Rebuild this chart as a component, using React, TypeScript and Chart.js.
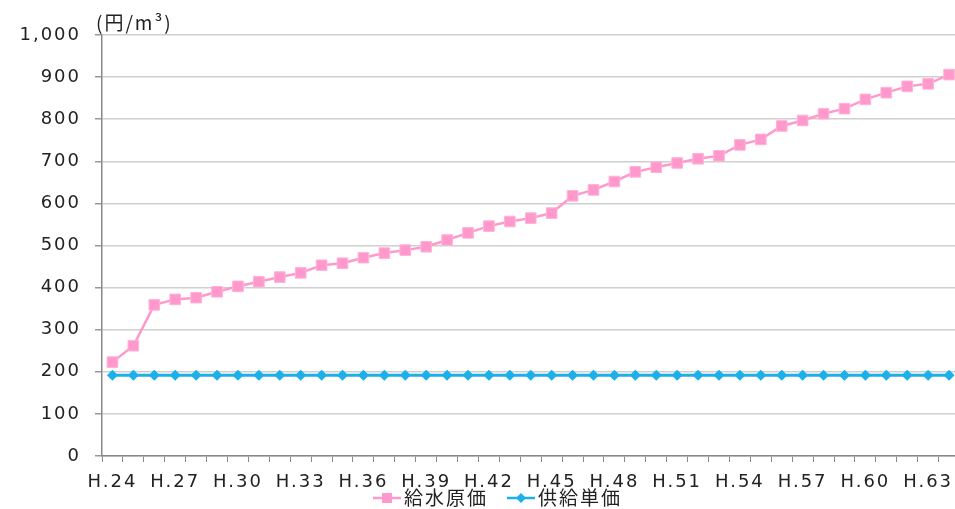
import React, { useEffect, useRef } from "react";
import { Chart, registerables } from "chart.js";

Chart.register(...registerables);

const categories = [
  "H.24","H.25","H.26","H.27","H.28","H.29","H.30","H.31","H.32","H.33",
  "H.34","H.35","H.36","H.37","H.38","H.39","H.40","H.41","H.42","H.43",
  "H.44","H.45","H.46","H.47","H.48","H.49","H.50","H.51","H.52","H.53",
  "H.54","H.55","H.56","H.57","H.58","H.59","H.60","H.61","H.62","H.63","H.64",
];

const kyusuiGenka = [
  223, 262, 359, 372, 376, 390, 403, 414, 425, 435,
  453, 458, 471, 482, 489, 497, 513, 530, 546, 557,
  565, 577, 618, 632, 652, 675, 686, 696, 706, 713,
  739, 752, 784, 797, 813, 825, 847, 863, 878, 884, 906,
];

const kyokyuTanka = [
  192, 192, 192, 192, 192, 192, 192, 192, 192, 192,
  192, 192, 192, 192, 192, 192, 192, 192, 192, 192,
  192, 192, 192, 192, 192, 192, 192, 192, 192, 192,
  192, 192, 192, 192, 192, 192, 192, 192, 192, 192, 192,
];

const seriesNames = ["給水原価", "供給単価"];
const unitLabel = "(円/m³)";
const yTicks = [0, 100, 200, 300, 400, 500, 600, 700, 800, 900, 1000];

const PINK = "#FF99CC";
const BLUE = "#1CB0EA";
const FONT = "'DejaVu Sans', sans-serif";

export default function App() {
  const ref = useRef<HTMLCanvasElement | null>(null);

  useEffect(() => {
    if (!ref.current) return;
    const spacing = (chart: any) => {
      try { chart.ctx.letterSpacing = "2px"; } catch (e) {}
    };
    const extras = {
      id: "extras",
      beforeUpdate(chart: any) { spacing(chart); },
      beforeLayout(chart: any) { spacing(chart); },
      beforeDraw(chart: any) { spacing(chart); },
      afterDraw(chart: any) {
        const ctx = chart.ctx;
        const area = chart.chartArea;
        ctx.save();
        try { ctx.letterSpacing = "2px"; } catch (e) {}
        ctx.fillStyle = "#222";
        ctx.font = `19px 'Noto Sans CJK JP', ${FONT}`;
        ctx.textAlign = "left";
        ctx.textBaseline = "middle";
        ctx.fillText(unitLabel, area.left - 6, area.top - 12);

        // legend
        const items = [
          { name: seriesNames[0], color: PINK, style: "rect", x: 373 },
          { name: seriesNames[1], color: BLUE, style: "rectRot", x: 507 },
        ];
        const y = 498;
        for (const it of items) {
          ctx.strokeStyle = it.color;
          ctx.lineWidth = 2.5;
          ctx.beginPath();
          ctx.moveTo(it.x, y);
          ctx.lineTo(it.x + 28, y);
          ctx.stroke();
          ctx.fillStyle = it.color;
          if (it.style === "rect") {
            ctx.fillRect(it.x + 9, y - 5, 10, 10);
          } else {
            ctx.beginPath();
            ctx.moveTo(it.x + 14, y - 5);
            ctx.lineTo(it.x + 19, y);
            ctx.lineTo(it.x + 14, y + 5);
            ctx.lineTo(it.x + 9, y);
            ctx.closePath();
            ctx.fill();
          }
          ctx.fillStyle = "#222";
          ctx.font = `19px 'Noto Sans CJK JP', sans-serif`;
          ctx.fillText(it.name, it.x + 31, y);
        }
        ctx.restore();
      },
    };

    const chart = new Chart(ref.current, {
      type: "line",
      data: {
        labels: categories,
        datasets: [
          {
            label: seriesNames[0],
            data: kyusuiGenka,
            borderColor: PINK,
            backgroundColor: PINK,
            borderWidth: 2.5,
            pointStyle: "rect",
            pointRadius: 7.5,
            pointBorderWidth: 1,
            pointBorderColor: "#FFB3D9",
            pointBackgroundColor: PINK,
            tension: 0,
          },
          {
            label: seriesNames[1],
            data: kyokyuTanka,
            borderColor: BLUE,
            backgroundColor: BLUE,
            borderWidth: 3,
            pointStyle: "rectRot",
            pointRadius: 5.5,
            pointBorderWidth: 0,
            pointBackgroundColor: BLUE,
            tension: 0,
          },
        ],
      },
      options: {
        animation: false,
        responsive: false,
        maintainAspectRatio: false,
        layout: { padding: { top: 35, right: 0, bottom: 20, left: 0 } },
        plugins: {
          legend: { display: false },
          tooltip: { enabled: false },
          title: { display: false },
        },
        scales: {
          x: {
            type: "category",
            offset: true,
            grid: {
              offset: true,
              drawOnChartArea: false,
              drawTicks: true,
              tickLength: 6,
              tickColor: "#888",
              tickWidth: 1,
            },
            border: { display: true, color: "#888", width: 1.5 },
            ticks: {
              autoSkip: false,
              maxRotation: 0,
              minRotation: 0,
              padding: 10,
              color: "#222",
              font: { family: FONT, size: 18 },
              callback: (_v: any, i: number) => (i % 3 === 0 ? categories[i] : ""),
            },
            afterFit(scale: any) { scale.height = 33; },
          },
          y: {
            min: 0,
            max: 1000,
            afterBuildTicks(scale: any) {
              scale.ticks = yTicks.map((v) => ({ value: v }));
            },
            grid: {
              color: "#CFCFCF",
              lineWidth: 1.5,
              drawTicks: true,
              tickLength: 7,
              tickColor: "#999",
            },
            border: { display: true, color: "#888", width: 1.5 },
            ticks: {
              padding: 14,
              color: "#222",
              font: { family: FONT, size: 18 },
              callback: (v: any) => Number(v).toLocaleString("en-US"),
            },
            afterFit(scale: any) { scale.width = 102; },
          },
        },
      },
      plugins: [extras],
    });
    return () => chart.destroy();
  }, []);

  return (
    <div style={{ position: "fixed", left: 0, top: 0, width: 955, height: 509, overflow: "hidden", background: "#fff" }}>
      <canvas ref={ref} width={968} height={509} style={{ display: "block", width: 968, height: 509 }} />
    </div>
  );
}
